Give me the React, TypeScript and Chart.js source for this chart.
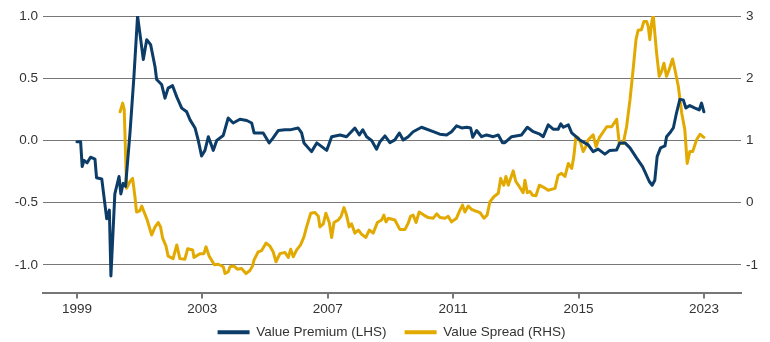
import React, { useEffect, useRef } from 'react';
import { Chart, registerables } from 'chart.js';

Chart.register(...registerables);

// x axis: months counted from the first labelled tick
const xTickPositions = [0, 48, 96, 144, 192, 240];
const xTickLabels = ['1999', '2003', '2007', '2011', '2015', '2023'];
const leftTicks = [-1, -0.5, 0, 0.5, 1];
const rightTicks = [-1, 0, 1, 2, 3];

const premiumMonths = [
  0, 1.4, 2, 2.7, 3.9, 5.2, 6.9, 7.5, 9.5, 11.4,
  12.4, 13, 14.5, 16.1, 16.8, 17.7, 18.6, 20.3, 21.8, 23.2,
  24.1, 25.4, 26.7, 28.2, 29.9, 30.5, 32.4, 33.7, 34.9, 36.6,
  38.2, 40.1, 42, 43.3, 45.2, 46.4, 47.7, 49, 50.3, 52.2,
  53.5, 56, 57.9, 59.8, 62.4, 65, 66.9, 67.8, 70, 71.3,
  73.6, 75.1, 77.1, 79.6, 81.5, 84.7, 86, 86.9, 89.8, 91.8,
  93.7, 95.6, 97.5, 100.7, 103.2, 106.4, 108.1, 109.4, 110.9, 112.8,
  114.7, 116, 117.9, 119.8, 121.7, 123.4, 124.9, 126.8, 128.7, 131.9,
  136.4, 138.9, 141.5, 143.4, 145.3, 147.3, 149.2, 150.7, 151.5, 153,
  154.9, 156.8, 159.4, 161.3, 162.9, 163.8, 166.4, 170.2, 172.4, 174.7,
  177.2, 178.5, 180.4, 182.3, 184.2, 185.2, 186.2, 188.1, 189.4, 192.5,
  195.7, 197.6, 199.5, 202.1, 204, 206.6, 207.8, 209.8, 211.7, 214.2,
  216.5, 217.4, 219.1, 220.2, 221.2, 222.1, 223.4, 225.1, 225.7, 227.3,
  228.3, 229.5, 230.8, 232.1, 233.1, 234.6, 236.6, 238.2, 239.1, 240,
];
const premiumValues = [
  -0.01, -0.01, -0.21, -0.16, -0.18, -0.135, -0.15, -0.3, -0.31, -0.63,
  -0.56, -1.09, -0.43, -0.29, -0.43, -0.345, -0.37, 0.06, 0.51, 1.0,
  0.86, 0.65, 0.81, 0.77, 0.59, 0.49, 0.45, 0.34, 0.42, 0.44,
  0.35, 0.26, 0.23, 0.165, 0.1, 0.004, -0.125, -0.08, 0.03, -0.08,
  0.0, 0.04, 0.18, 0.14, 0.17, 0.16, 0.14, 0.06, 0.06, 0.06,
  -0.02, 0.02, 0.08, 0.085, 0.085, 0.1, 0.06, -0.02, -0.09, -0.02,
  -0.05, -0.08, 0.03, 0.044, 0.03, 0.1, 0.044, 0.085, 0.03, 0.0,
  -0.07, -0.01, 0.036, -0.018, 0.004, 0.06, 0.004, 0.03, 0.07, 0.106,
  0.07, 0.05, 0.044, 0.07, 0.117, 0.1, 0.106, 0.1, 0.026, 0.08,
  0.03, 0.044, 0.03, 0.044, -0.018, -0.018, 0.03, 0.044, 0.106, 0.07,
  0.05, 0.03, 0.125, 0.09, 0.09, 0.133, 0.106, 0.125, 0.06, 0.004,
  -0.036, -0.09, -0.07, -0.11, -0.08, -0.076, -0.02, -0.02, -0.06, -0.14,
  -0.21, -0.25, -0.33, -0.36, -0.32, -0.13, -0.06, -0.044, 0.03, 0.07,
  0.1, 0.22, 0.33, 0.326, 0.26, 0.28, 0.26, 0.245, 0.3, 0.23,
];

const spreadMonths = [
  16.5, 17.5, 18.1, 19.0, 20.3, 21.3, 22.2, 22.8, 24.1, 24.8,
  26.9, 28.6, 29.9, 31.1, 32.0, 32.8, 34.1, 34.9, 36.8, 38.2,
  39.4, 41.3, 42.4, 44.3, 44.8, 47.1, 48.6, 49.4, 50.6, 52.6,
  54.1, 56.0, 56.7, 57.9, 58.6, 60.1, 61.4, 63.0, 64.7, 66.2,
  67.2, 67.8, 69.4, 70.7, 72.4, 73.9, 75.1, 76.2, 77.7, 79.6,
  80.9, 81.8, 82.8, 84.1, 85.6, 86.9, 87.9, 89.5, 91.1, 92.4,
  93.0, 94.3, 95.3, 96.6, 97.5, 98.4, 100.0, 101.1, 102.2, 103.2,
  104.2, 105.1, 106.4, 107.7, 109.0, 110.6, 111.9, 113.4, 115.0, 116.6,
  117.5, 118.3, 119.2, 121.7, 123.6, 125.6, 126.8, 127.7, 128.7, 129.8,
  131.0, 132.8, 134.5, 136.4, 137.7, 139.0, 140.9, 142.1, 143.4, 145.3,
  146.6, 147.6, 148.5, 149.8, 151.1, 152.3, 154.3, 155.8, 157.0, 158.1,
  159.6, 161.3, 162.2, 162.6, 163.4, 164.2, 165.1, 167.0, 168.0, 169.3,
  170.8, 171.5, 172.4, 173.4, 174.4, 175.7, 177.0, 178.5, 180.4, 183.0,
  184.2, 185.5, 186.8, 188.1, 189.4, 190.2, 191.0, 191.9, 192.8, 193.8,
  194.8, 195.7, 197.6, 198.7, 199.9, 201.5, 202.8, 204.7, 206.6, 207.6,
  209.1, 210.4, 211.7, 212.9, 214.0, 214.8, 216.1, 217.0, 218.1, 218.7,
  219.3, 220.0, 220.6, 221.2, 221.9, 222.9, 223.8, 224.7, 225.7, 226.7,
  228.0, 228.9, 230.2, 231.5, 232.7, 233.6, 234.6, 235.7, 237.2, 238.5,
  240.0,
];
const spreadValues = [
  1.46, 1.6, 1.49, 0.23, 0.34, 0.39, 0.095, -0.15, -0.13, -0.055,
  -0.28, -0.52, -0.39, -0.32, -0.39, -0.57, -0.7, -0.86, -0.9, -0.68,
  -0.9, -0.91, -0.74, -0.76, -0.88, -0.82, -0.82, -0.71, -0.86, -1.0,
  -0.99, -1.03, -1.14, -1.11, -1.03, -1.02, -1.07, -1.06, -1.14, -1.09,
  -1.02, -0.92, -0.79, -0.77, -0.65, -0.7, -0.79, -0.95, -0.82, -0.8,
  -0.88, -0.75, -0.87, -0.76, -0.68, -0.55, -0.39, -0.17, -0.16, -0.22,
  -0.39, -0.34, -0.17, -0.32, -0.56, -0.32, -0.28, -0.22, -0.08, -0.2,
  -0.39, -0.34, -0.49, -0.44, -0.51, -0.56, -0.44, -0.49, -0.32, -0.28,
  -0.2, -0.31, -0.25, -0.28, -0.43, -0.43, -0.33, -0.22, -0.2, -0.32,
  -0.15, -0.2, -0.24, -0.25, -0.18, -0.24, -0.25, -0.22, -0.31, -0.25,
  -0.12, -0.04, -0.15, -0.055, -0.11, -0.13, -0.16, -0.25, -0.2, 0.015,
  0.095, 0.15, 0.39, 0.34, 0.28, 0.42, 0.28, 0.51, 0.34, 0.26,
  0.16, 0.36, 0.16, 0.18, 0.12, 0.11, 0.28, 0.25, 0.2, 0.23,
  0.44, 0.47, 0.42, 0.63, 0.55, 0.74, 1.06, 1.04, 0.96, 0.82,
  0.9, 1.01, 1.09, 0.9, 1.04, 1.14, 1.22, 1.22, 1.34, 0.95,
  0.95, 1.22, 1.65, 2.14, 2.62, 2.77, 2.78, 2.91, 2.91, 2.83,
  2.62, 2.89, 3.02, 2.73, 2.4, 2.03, 2.11, 2.24, 2.03, 2.14,
  2.31, 2.14, 1.87, 1.44, 1.17, 0.63, 0.82, 0.82, 1.01, 1.1,
  1.05,
];

const BLUE = '#0c3c68';
const GOLD = '#e2aa00';
const GRID = '#777777';
const TEXT = '#333333';
const FONT = "'Liberation Sans', Arial, sans-serif";

// let the x tick labels draw below the (shortened) x-axis box
const unclipXLabels = {
  id: 'unclipXLabels',
  afterLayout(chart: any) {
    const x = chart.scales.x;
    if (x) x.bottom = chart.height;
  },
};

export default function App() {
  const ref = useRef<HTMLCanvasElement>(null);

  useEffect(() => {
    document.body.style.margin = '0';
    const canvas = ref.current;
    if (!canvas) return;
    const chart = new Chart(canvas, {
      type: 'line',
      data: {
        datasets: [
          {
            label: 'Value Premium (LHS)',
            data: premiumMonths.map((x, i) => ({ x, y: premiumValues[i] })),
            borderColor: BLUE,
            backgroundColor: BLUE,
            borderWidth: 3,
            pointRadius: 0,
            tension: 0,
            borderJoinStyle: 'round',
            borderCapStyle: 'round',
            yAxisID: 'yL',
          },
          {
            label: 'Value Spread (RHS)',
            data: spreadMonths.map((x, i) => ({ x, y: spreadValues[i] })),
            borderColor: GOLD,
            backgroundColor: GOLD,
            borderWidth: 3,
            pointRadius: 0,
            tension: 0,
            borderJoinStyle: 'round',
            borderCapStyle: 'round',
            yAxisID: 'yR',
          },
        ],
      },
      plugins: [unclipXLabels],
      options: {
        responsive: false,
        animation: false,
        layout: { padding: { top: 16, left: 13, right: 0, bottom: -7 } },
        plugins: {
          tooltip: { enabled: false },
          legend: {
            position: 'bottom',
            labels: {
              usePointStyle: true,
              pointStyle: 'line',
              pointStyleWidth: 32,
              padding: 18,
              color: TEXT,
              font: { family: FONT, size: 13.5 },
              generateLabels: (c: any) =>
                Chart.defaults.plugins.legend.labels
                  .generateLabels(c)
                  .map((l: any) => ({ ...l, lineWidth: 4 })),
            },
          },
        },
        scales: {
          x: {
            type: 'linear',
            min: -13,
            max: 254.2,
            afterBuildTicks: (s: any) => {
              s.ticks = xTickPositions.map((v) => ({ value: v }));
            },
            afterFit: (s: any) => {
              s.height = 15;
            },
            ticks: {
              autoSkip: false,
              maxRotation: 0,
              padding: 3,
              color: TEXT,
              font: { family: FONT, size: 13.5 },
              callback: (_v: any, i: number) => xTickLabels[i],
            },
            grid: {
              drawOnChartArea: false,
              drawTicks: true,
              tickLength: 6,
              color: GRID,
              lineWidth: 2,
            },
            border: { display: true, color: GRID, width: 2 },
          },
          yL: {
            type: 'linear',
            position: 'left',
            min: -1.2222,
            max: 1.0,
            afterBuildTicks: (s: any) => {
              s.ticks = leftTicks.map((v) => ({ value: v }));
            },
            afterFit: (s: any) => {
              s.width = 30;
            },
            ticks: {
              padding: 5,
              color: TEXT,
              font: { family: FONT, size: 13.5 },
              callback: (v: any) => Number(v).toFixed(1),
            },
            grid: { color: GRID, lineWidth: 1, drawTicks: false },
            border: { display: false },
          },
          yR: {
            type: 'linear',
            position: 'right',
            min: -1.4444,
            max: 3,
            afterBuildTicks: (s: any) => {
              s.ticks = rightTicks.map((v) => ({ value: v }));
            },
            afterFit: (s: any) => {
              s.width = 29;
            },
            ticks: {
              padding: 5,
              color: TEXT,
              font: { family: FONT, size: 13.5 },
              callback: (v: any) => String(v),
            },
            grid: { drawOnChartArea: false, drawTicks: false },
            border: { display: false },
          },
        },
      },
    });
    return () => chart.destroy();
  }, []);

  return (
    <canvas ref={ref} width={770} height={342} style={{ display: 'block', width: 770, height: 342 }} />
  );
}
